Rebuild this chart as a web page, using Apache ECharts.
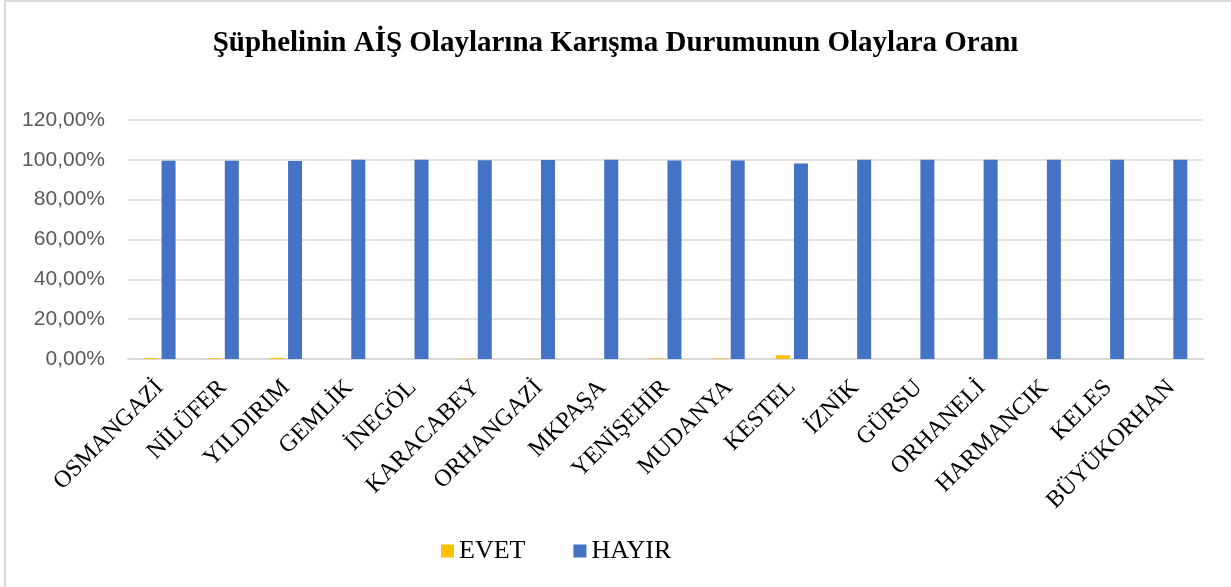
<!DOCTYPE html>
<html>
<head>
<meta charset="utf-8">
<script src="https://cdn.jsdelivr.net/npm/echarts@6/dist/echarts.min.js"></script>
<style>
  html, body { margin: 0; padding: 0; background: #fff; }
  .chart-box { position: relative; width: 1231px; height: 587px; }
  .chart-frame {
    position: absolute; left: 4px; top: 0; right: -4px; bottom: -4px;
    border-left: 2px solid #d9d9d9; border-top: 2px solid #d9d9d9;
  }
  #view { position: absolute; left: 0; top: 0; width: 1231px; height: 587px; }
</style>
</head>
<body>
<div class="chart-box">
  <div class="chart-frame"></div>
  <div id="view"></div>
</div>
<script>
// ilçeler
let districts = [
  "OSMANGAZİ", "NİLÜFER", "YILDIRIM", "GEMLİK", "İNEGÖL", "KARACABEY",
  "ORHANGAZİ", "MKPAŞA", "YENİŞEHİR", "MUDANYA", "KESTEL", "İZNİK",
  "GÜRSU", "ORHANELİ", "HARMANCIK", "KELES", "BÜYÜKORHAN"
];
// oranlar (%)
let evetValues = [0.5, 0.4, 0.6, 0, 0, 0.2, 0.1, 0, 0.3, 0.3, 1.9, 0, 0, 0, 0, 0, 0];
let hayirValues = [99.5, 99.6, 99.4, 100, 100, 99.8, 99.9, 100, 99.7, 99.7, 98.1, 100, 100, 100, 100, 100, 100];
let yTicks = [0, 20, 40, 60, 80, 100, 120];

let myChart = echarts.init(document.getElementById("view"));

let option = {
  backgroundColor: "transparent",
  animation: false,
  title: {
    text: "Şüphelinin AİŞ Olaylarına Karışma Durumunun Olaylara Oranı",
    left: "center",
    top: 24,
    textStyle: {
      fontFamily: "Liberation Serif",
      fontWeight: "bold",
      fontSize: 29,
      color: "#000",
    },
  },
  legend: {
    data: ["EVET", "HAYIR"],
    bottom: 18,
    left: 436,
    itemWidth: 13,
    itemHeight: 13,
    itemGap: 48,
    icon: "rect",
    textStyle: {
      fontFamily: "Liberation Serif",
      fontSize: 26,
      color: "#000",
    },
  },
  grid: {
    left: 128,
    right: 28,
    top: 120,
    bottom: 228,
  },
  xAxis: {
    type: "category",
    data: districts,
    axisLine: { lineStyle: { color: "#d9d9d9", width: 2 } },
    axisTick: { show: false },
    axisLabel: {
      rotate: 45,
      interval: 0,
      margin: 25,
      fontFamily: "Liberation Serif",
      fontSize: 24,
      color: "#000",
    },
  },
  yAxis: {
    type: "value",
    min: yTicks[0],
    max: yTicks[yTicks.length - 1],
    interval: 20,
    axisLine: { show: false },
    axisTick: { show: false },
    splitLine: { lineStyle: { color: "#d9d9d9", width: 1.5 } },
    axisLabel: {
      margin: 23,
      fontFamily: "Liberation Sans",
      fontSize: 21,
      color: "#595959",
      formatter: (v) => v.toFixed(2).replace(".", ",") + "%",
    },
  },
  series: [
    {
      name: "EVET",
      type: "bar",
      data: evetValues,
      barWidth: 14,
      barGap: "28%",
      itemStyle: { color: "#FFC000" },
    },
    {
      name: "HAYIR",
      type: "bar",
      data: hayirValues,
      barWidth: 14,
      barGap: "28%",
      itemStyle: { color: "#4472C4" },
    },
  ],
};
myChart.setOption(option);
</script>
</body>
</html>
